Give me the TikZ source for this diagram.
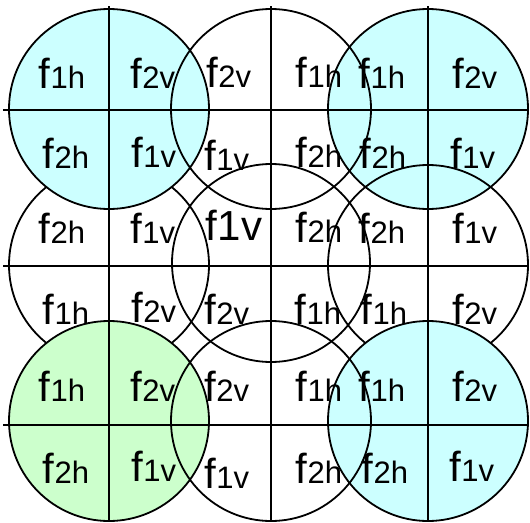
\documentclass[tikz,border=0pt]{standalone}
\usepackage{fontspec}
\setmainfont{Liberation Sans}
\newcommand\fsub[1]{f{\fontsize{31}{33}\selectfont #1}}
\newcommand\fbig[1]{f#1}
\begin{document}
\begin{tikzpicture}[x=1pt,y=-1pt,
  ring/.style={draw=black,line width=1.8pt},
  greenring/.style={ring,fill={rgb,255:red,204;green,255;blue,204}},
  axis/.style={draw=black,line width=1.8pt},
  lbl/.style={font=\fontsize{42}{44}\selectfont,anchor=base,inner sep=0pt}]
\useasboundingbox (0,0) rectangle (530,522);
\definecolor{cyanfill}{RGB}{204,255,255}
% circles below colored ones
\draw[ring] (109,265) circle[radius=100];
% colored circles
\draw[ring,fill=cyanfill] (109,109) circle[radius=100];
\draw[greenring] (109,421) circle[radius=100];
\draw[ring,fill=cyanfill] (428,109) circle[radius=100];
\draw[ring] (428,265) circle[radius=100];
\draw[ring,fill=cyanfill] (428,421) circle[radius=100];
% remaining open circles
\draw[ring] (271,109) circle[radius=100];
\draw[ring] (271,421) circle[radius=100];
\draw[ring] (271,263) circle[radius=99];
% cross lines
\coordinate (h1a) at (3,110);  \coordinate (h1b) at (528,110);
\coordinate (h2a) at (3,266);  \coordinate (h2b) at (528,266);
\coordinate (h3a) at (3,425);  \coordinate (h3b) at (528,425);
\coordinate (v1a) at (109,6);  \coordinate (v1b) at (109,521);
\coordinate (v2a) at (271,6);  \coordinate (v2b) at (271,521);
\coordinate (v3a) at (428,6);  \coordinate (v3b) at (428,521);
\draw[axis] (h1a) -- (h1b);
\draw[axis] (h2a) -- (h2b);
\draw[axis] (h3a) -- (h3b);
\draw[axis] (v1a) -- (v1b);
\draw[axis] (v2a) -- (v2b);
\draw[axis] (v3a) -- (v3b);
% labels: top-left
\node[lbl] (tl1) at (62,88) {\fsub{1h}};
\node[lbl] (tl2) at (153,88) {\fsub{2v}};
\node[lbl] (tl3) at (66,168) {\fsub{2h}};
\node[lbl] (tl4) at (154,167) {\fsub{1v}};
% top-middle
\node[lbl] (tm1) at (229,87) {\fsub{2v}};
\node[lbl] (tm2) at (319,87) {\fsub{1h}};
\node[lbl] (tm3) at (227,170) {\fsub{1v}};
\node[lbl] (tm4) at (319,167) {\fsub{2h}};
% top-right
\node[lbl] (tr1) at (382,88) {\fsub{1h}};
\node[lbl] (tr2) at (475,88) {\fsub{2v}};
\node[lbl] (tr3) at (383,168) {\fsub{2h}};
\node[lbl] (tr4) at (473,168) {\fsub{1v}};
% middle-left
\node[lbl] (ml1) at (62,243) {\fsub{2h}};
\node[lbl] (ml2) at (153,243) {\fsub{1v}};
\node[lbl] (ml3) at (66,324) {\fsub{1h}};
\node[lbl] (ml4) at (154,322) {\fsub{2v}};
% middle-centre
\node[lbl] (mc1) at (234,240) {\fbig{1v}};
\node[lbl] (mc2) at (319,242) {\fsub{2h}};
\node[lbl] (mc3) at (227,324) {\fsub{2v}};
\node[lbl] (mc4) at (318,324) {\fsub{1h}};
% middle-right
\node[lbl] (mr1) at (382,243) {\fsub{2h}};
\node[lbl] (mr2) at (475,243) {\fsub{1v}};
\node[lbl] (mr3) at (384,324) {\fsub{1h}};
\node[lbl] (mr4) at (475,324) {\fsub{2v}};
% bottom-left
\node[lbl] (bl1) at (62,401) {\fsub{1h}};
\node[lbl] (bl2) at (153,401) {\fsub{2v}};
\node[lbl] (bl3) at (66,483) {\fsub{2h}};
\node[lbl] (bl4) at (154,481) {\fsub{1v}};
% bottom-middle
\node[lbl] (bm1) at (227,401) {\fsub{2v}};
\node[lbl] (bm2) at (319,401) {\fsub{1h}};
\node[lbl] (bm3) at (227,488) {\fsub{1v}};
\node[lbl] (bm4) at (319,483) {\fsub{2h}};
% bottom-right
\node[lbl] (br1) at (382,401) {\fsub{1h}};
\node[lbl] (br2) at (475,401) {\fsub{2v}};
\node[lbl] (br3) at (385,483) {\fsub{2h}};
\node[lbl] (br4) at (472,481) {\fsub{1v}};
\end{tikzpicture}
\end{document}
